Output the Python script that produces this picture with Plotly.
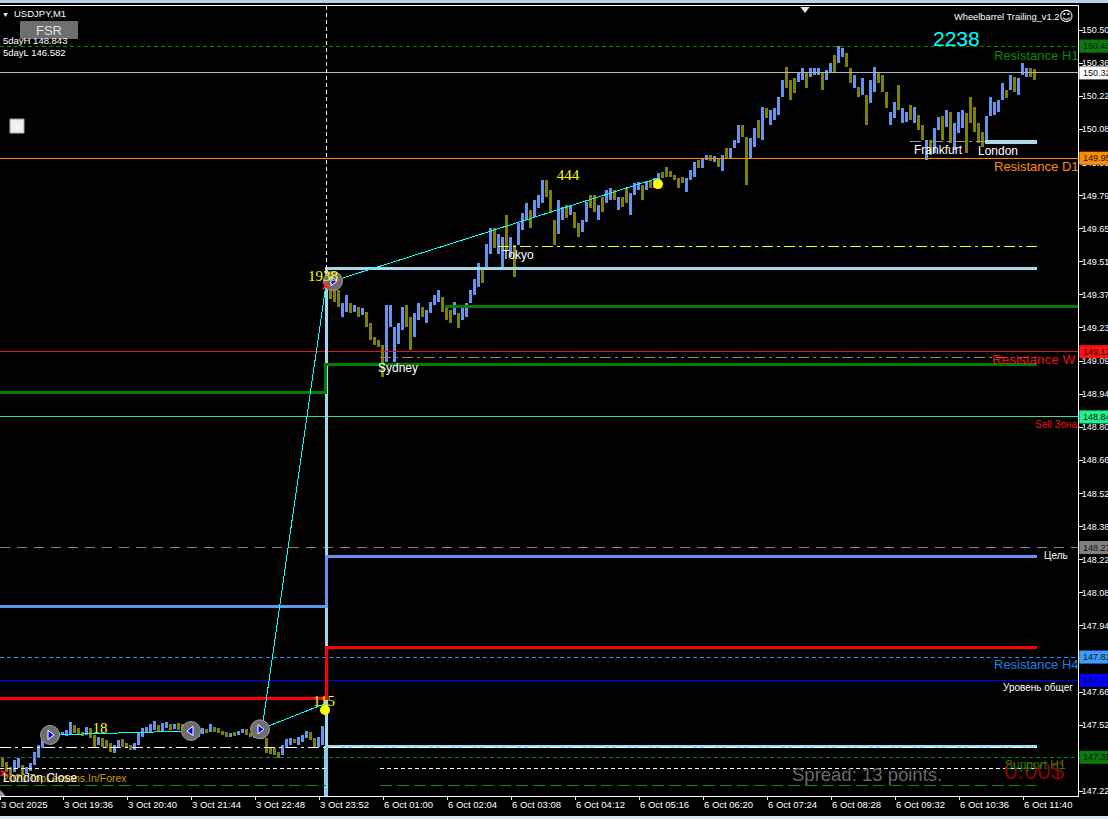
import plotly.graph_objects as go

# ---- price bars, one every 4 minutes -------------------------------------
high_a = [147.375,147.361,147.337,147.368,147.375,147.347,147.337,147.354,147.404,147.432,147.468,147.497,147.497,147.49,147.49,147.49,147.497,147.533,147.518,147.504,147.49,147.511,147.504,147.476,147.468,147.461,147.454,147.44,147.433,147.454,147.457,147.44,147.433,147.44,147.49,147.504,147.511,147.525,147.537,147.518,147.528,147.533,147.523,147.525,147.528,147.523,147.511,147.497,147.49,147.497,147.504,147.5,147.523,147.511,147.504,147.494,147.49,147.486,147.49,147.494,147.5,147.5,147.486,147.483,147.49,147.5,147.461,147.425,147.418,147.404,147.432,147.457,147.461,147.457,147.465,147.476,147.494,147.49,147.461,147.465,147.514]
low_a = [147.337,147.318,147.304,147.318,147.332,147.304,147.308,147.322,147.347,147.375,147.418,147.44,147.454,147.461,147.471,147.476,147.471,147.476,147.486,147.476,147.471,147.476,147.461,147.425,147.433,147.425,147.418,147.404,147.4,147.418,147.425,147.418,147.411,147.411,147.433,147.468,147.483,147.49,147.497,147.49,147.494,147.504,147.497,147.5,147.497,147.49,147.476,147.465,147.461,147.468,147.48,147.483,147.49,147.49,147.486,147.476,147.468,147.468,147.471,147.476,147.483,147.476,147.465,147.461,147.461,147.457,147.397,147.394,147.39,147.375,147.39,147.418,147.433,147.44,147.433,147.447,147.461,147.454,147.422,147.425,147.433]
dir_a = "DDDUUDUUUUUUUDUUUUDDDUDDUDDDUUDDDUUUUUUDUUDUDDDUDUUDUDDDDUDUUDDUUUDDDDUUUDUUUDDUU"[:81]

high_b = [149.47,149.42,149.398,149.384,149.327,149.363,149.327,149.32,149.313,149.306,149.291,149.241,149.184,149.17,149.148,149.32,149.32,149.227,149.241,149.313,149.32,149.27,149.284,149.327,149.313,149.298,149.334,149.363,149.384,149.356,149.32,149.298,149.334,149.284,149.306,149.327,149.384,149.434,149.499,149.47,149.584,149.649,149.649,149.627,149.613,149.706,149.613,149.577,149.67,149.713,149.756,149.727,149.77,149.792,149.856,149.856,149.813,149.684,149.77]
low_b = [149.413,149.348,149.334,149.313,149.27,149.291,149.284,149.291,149.27,149.277,149.227,149.17,149.148,149.141,149.012,149.077,149.227,149.077,149.155,149.213,149.227,149.127,149.184,149.255,149.27,149.241,149.284,149.32,149.334,149.291,149.255,149.241,149.277,149.22,149.255,149.27,149.327,149.363,149.398,149.413,149.47,149.541,149.563,149.541,149.484,149.556,149.527,149.441,149.577,149.642,149.684,149.649,149.699,149.735,149.756,149.785,149.713,149.577,149.627]
dir_b = "DDDDUUDUDUDDDDDUUUUUDDUUDUUUUDDDUDUUUUUDUUDUUDUDUUUDUUUDDDU"[:59]

high_c = [149.742,149.749,149.749,149.721,149.67,149.685,149.763,149.792,149.792,149.749,149.785,149.813,149.821,149.813,149.785,149.785,149.821,149.799,149.842,149.849,149.835,149.849,149.856,149.864,149.885,149.892,149.911,149.896,149.878,149.864,149.871,149.864,149.899,149.935,149.942,149.945,149.964,149.964,149.959,149.949,149.964,149.992,149.992,150.028,150.092]
low_c = [149.685,149.692,149.706,149.649,149.613,149.635,149.678,149.735,149.721,149.685,149.721,149.756,149.771,149.771,149.728,149.742,149.756,149.706,149.792,149.813,149.771,149.813,149.821,149.821,149.856,149.864,149.871,149.871,149.856,149.821,149.845,149.806,149.856,149.871,149.906,149.906,149.942,149.939,149.935,149.914,149.896,149.949,149.949,149.992,150.014]
dir_c = "UDUDDUUDDUDUUDUDDUUUDUDUUDDDDDDUUUDUUDUDUDUUU"[:45]

high_d = [150.092,150.04,150.035,150.078,150.114,150.171,150.164,150.157,150.164,150.214,150.285,150.343,150.285,150.293,150.314,150.335,150.321,150.335,150.335,150.335,150.321,150.328,150.357,150.393,150.431,150.421,150.4,150.335,150.307,150.257,150.293,150.221,150.285,150.343,150.321,150.307,150.235,150.15,150.192,150.264,150.164,150.15,150.178,150.171,150.135,150.092,150.028,150.028,150.078,150.128]
low_d = [150.042,149.835,149.95,150.0,150.035,150.028,150.121,150.092,150.114,150.135,150.214,150.25,150.2,150.228,150.278,150.285,150.25,150.3,150.307,150.307,150.243,150.285,150.321,150.321,150.357,150.385,150.343,150.271,150.25,150.214,150.221,150.092,150.185,150.235,150.271,150.235,150.164,150.092,150.121,150.157,150.1,150.107,150.114,150.1,150.071,150.028,149.942,149.964,149.971,150.071]
dir_d = "DDUUDUDUUUUDDDUUDUUUDUUDUUDDUDUDUUDDDUUDUUDUDDUDUU"[:50]

high_e = [150.129,150.157,150.15,150.1,150.15,150.157,150.143,150.214,150.171,150.1,150.064,150.129,150.214,150.193,150.2,150.271,150.243,150.307,150.3,150.293,150.357,150.336,150.336,150.331]
low_e = [150.028,150.086,150.014,149.986,150.057,150.078,149.971,150.1,150.064,150.014,150.0,150.028,150.129,150.136,150.15,150.2,150.207,150.243,150.236,150.221,150.307,150.3,150.3,150.286]
dir_e = "DUDUUUDDDDDUUUUUDUDUUUDD"

bar_high = high_a + high_b + high_c + high_d + high_e
bar_low = low_a + low_b + low_c + low_d + low_e
bar_dir = dir_a.ljust(81, "U") + dir_b.ljust(59, "U") + dir_c.ljust(45, "U") + dir_d.ljust(50, "U") + dir_e
bar_minute = [2 + 4 * i for i in range(len(bar_high))]
bar_open = [l if d == "U" else h for h, l, d in zip(bar_high, bar_low, bar_dir)]
bar_close = [h if d == "U" else l for h, l, d in zip(bar_high, bar_low, bar_dir)]

# ---- axes ---------------------------------------------------------------
x_tick_minutes = [0, 63, 127, 191, 255, 319, 383, 447, 511, 575, 639, 703, 767, 831, 895, 959, 1023]
x_tick_text = ["3 Oct 2025", "3 Oct 19:36", "3 Oct 20:40", "3 Oct 21:44", "3 Oct 22:48", "3 Oct 23:52",
               "6 Oct 01:00", "6 Oct 02:04", "6 Oct 03:08", "6 Oct 04:12", "6 Oct 05:16", "6 Oct 06:20",
               "6 Oct 07:24", "6 Oct 08:28", "6 Oct 09:32", "6 Oct 10:36", "6 Oct 11:40"]
y_tick_values = [150.50, 150.358, 150.216, 150.074, 149.932, 149.79, 149.648, 149.506, 149.364, 149.222, 149.08,
                 148.938, 148.796, 148.654, 148.512, 148.37, 148.228, 148.086, 147.944, 147.802, 147.66, 147.518,
                 147.376, 147.234]
y_tick_text = ["150.50", "150.36", "150.22", "150.08", "149.93", "149.79", "149.65", "149.51", "149.37", "149.23",
               "149.09", "148.94", "148.80", "148.66", "148.52", "148.38", "148.22", "148.08", "147.94", "147.80",
               "147.66", "147.52", "147.38", "147.22"]

X_MAX = 1078
Y_TOP, Y_BOTTOM = 150.603, 147.214
END = 1037

# ---- full-width price levels: price, colour, dash, tag text, tag colour ---
level_price = [150.431, 150.316, 149.95, 149.12, 148.84, 148.28, 147.81, 147.71, 147.38]
level_color = ["#0a8a0a", "#b4b4b4", "#ff8c00", "#ee1111", "#30e0a0", "#808080", "#1e90ff", "#0000ff", "#0a8a0a"]
level_dash = ["4px,3px", "solid", "solid", "solid", "solid", "10px,7px", "4px,3px", "solid", "4px,3px"]
level_tag = ["150.43", "150.32", "149.95", "149.12", "148.84", "148.27", "147.81", "147.71", "147.35"]
tag_color = ["#0a7a0a", "#ffffff", "#ff8c00", "#ff1111", "#20f090", "#808080", "#3d9bff", "#0000ff", "#0a7a0a"]

# ---- indicator step lines -----------------------------------------------
steel_x, steel_y = [0, 326, 326, END], [148.029, 148.029, 148.243, 148.243]
green_x, green_y = [0, 325, 325, END], [148.943, 148.943, 149.063, 149.063]
red_x, red_y = [0, 326, 326, END], [147.634, 147.634, 147.853, 147.853]
sky_x, sky_y = [END, 326, 326, END], [149.479, 149.479, 147.428, 147.428]
sky_drop_x, sky_drop_y = [326, 326], [147.428, 147.214]
green2_x, green2_y = [445, X_MAX], [149.316, 149.316]
sky2_x, sky2_y = [985, END], [150.02, 150.02]

# ---- thin dashed segments: x pair, price, colour, dash ---------------------
seg_x = [(498, END), (380, END), (0, END), (0, 326), (380, 1040), (0, 326), (380, END), (910, 985)]
seg_price = [149.573, 149.093, 147.424, 147.33, 147.33, 147.26, 147.26, 150.02]
seg_color = ["#ffff00", "#b87850", "#ffffff", "#ffffff", "#ffffff", "#0a8a0a", "#0a8a0a", "#999999"]
DD = "11px,4px,3px,4px"
seg_dash = [DD, DD, DD, "4px,3px", "4px,3px", "12px,5px", "12px,5px", DD]

# ---- trades -------------------------------------------------------------
trade_lines = [((50, 147.476), (191, 147.493)), ((260, 147.50), (325, 147.61)),
               ((262, 147.50), (326, 149.41)), ((333, 149.423), (658, 149.865))]
circle_x, circle_y = [50, 191, 260, 333], [147.476, 147.493, 147.50, 149.423]
arrow_symbol = ["triangle-right", "triangle-left", "triangle-right", "triangle-right"]
dot_x, dot_y = [658, 325], [149.839, 147.583]
cross_x, cross_y = [326, 4], [149.402, 147.312]

# ---- text: x, price, text, colour, size, family, anchor --------------------
SANS = "Liberation Sans"
SERIF = "Liberation Serif"
labels = [
    (994, 150.393, "Resistance H1", "#0a8a0a", 13, SANS, "middle right"),
    (994, 149.917, "Resistance D1", "#ff8c00", 13, SANS, "middle right"),
    (992, 149.089, "Resistance W", "#ee1111", 13.5, SANS, "middle right"),
    (994, 147.78, "Resistance H4", "#1e80e0", 13, SANS, "middle right"),
    (1035, 148.81, "Sell Зона", "#ee1111", 10, SANS, "middle right"),
    (1044, 148.248, "Цель", "#ffffff", 10, SANS, "middle right"),
    (1003, 147.681, "Уровень общег", "#ffffff", 10, SANS, "middle right"),
    (792, 147.304, "Spread: 13 points.", "#696969", 18.5, SANS, "middle right"),
    (1004, 147.317, "0.00$", "#8b0000", 24, SANS, "middle right"),
    (1005, 147.347, "Support H1", "#0a8a0a", 12, SANS, "middle right"),
    (933, 150.461, "2238", "#00ffff", 21, SANS, "middle right"),
    (954, 150.56, "Wheelbarrel Trailing_v1.2", "#ffffff", 9.3, SANS, "middle right"),
    (1059, 150.56, "☺", "#ffffff", 14, "DejaVu Sans", "middle right"),
    (14, 150.57, "USDJPY,M1", "#ffffff", 9.5, SANS, "middle right"),
    (2, 150.57, "▼", "#ffffff", 7, SANS, "middle right"),
    (49, 150.50, "FSR", "#e0e0e0", 13, SANS, "middle center"),
    (3, 150.457, "5dayH 148.843", "#ffffff", 9.5, SANS, "middle right"),
    (3, 150.406, "5dayL 146.582", "#ffffff", 9.5, SANS, "middle right"),
    (17, 150.088, "v", "#ffffff", 9, SANS, "middle center"),
    (3, 147.291, "2020 TopLessons.In/Forex", "#c8a000", 10.5, SANS, "middle right"),
    (3, 147.295, "London Close", "#ffffff", 12, SANS, "middle right"),
    (398, 149.05, "Sydney", "#ffffff", 12, SANS, "middle center"),
    (518, 149.535, "Tokyo", "#ffffff", 12, SANS, "middle center"),
    (938, 149.985, "Frankfurt", "#ffffff", 12, SANS, "middle center"),
    (998, 149.981, "London", "#ffffff", 12, SANS, "middle center"),
    (100, 147.505, "18", "#ffff00", 15, SERIF, "middle center"),
    (323, 149.445, "1938", "#ffff00", 15, SERIF, "middle center"),
    (568, 149.878, "444", "#ffff00", 15, SERIF, "middle center"),
    (324, 147.621, "115", "#ffff00", 15, SERIF, "middle center"),
]
LABEL_NUDGE = 0.006

fig = go.Figure()


def line(xs, ys, color, width=1, dash="solid"):
    fig.add_trace(go.Scatter(x=xs, y=ys, mode="lines", hoverinfo="skip",
                             line=dict(color=color, width=width, dash=dash, shape="linear")))


for price, color, dash in zip(level_price, level_color, level_dash):
    line([0, X_MAX], [price, price], color, 1, dash)

fig.add_trace(go.Ohlc(x=bar_minute, open=bar_open, high=bar_high, low=bar_low, close=bar_close, tickwidth=0,
                      increasing=dict(line=dict(color="#6495ed", width=3)),
                      decreasing=dict(line=dict(color="#808000", width=3)), hoverinfo="skip"))

line(sky_x, sky_y, "#a0d8ef", 3)
line(sky_drop_x, sky_drop_y, "#87ceeb", 4)
line(sky2_x, sky2_y, "#add8e6", 4)
line(steel_x, steel_y, "#6495ed", 3)
line(green_x, green_y, "#007f00", 3)
line(green2_x, green2_y, "#007f00", 3)
line(red_x, red_y, "#ff0000", 3)
for (x0, x1), price, color, dash in zip(seg_x, seg_price, seg_color, seg_dash):
    line([x0, x1], [price, price], color, 1, dash)
line([326, 326], [Y_TOP, 149.43], "#ffffff", 1, "4px,3px")

for (a, b) in trade_lines:
    line([a[0], b[0]], [a[1], b[1]], "#00ffff", 1)

fig.add_trace(go.Scatter(x=circle_x, y=circle_y, mode="markers", hoverinfo="skip",
                         marker=dict(size=19, color="#6e6e6e", line=dict(color="#9a9a9a", width=1))))
fig.add_trace(go.Scatter(x=circle_x, y=circle_y, mode="markers", hoverinfo="skip",
                         marker=dict(size=8, color="#0000ff", symbol=arrow_symbol, line=dict(color="#ffffff", width=1))))
fig.add_trace(go.Scatter(x=dot_x, y=dot_y, mode="markers", hoverinfo="skip", marker=dict(size=10, color="#ffff00")))
fig.add_trace(go.Scatter(x=cross_x, y=cross_y, mode="markers", hoverinfo="skip",
                         marker=dict(size=6, color="#ff2020", symbol="x-thin", line=dict(color="#ff2020", width=2))))
fig.add_trace(go.Scatter(x=[805], y=[150.59], mode="markers", hoverinfo="skip",
                         marker=dict(size=8, color="#e8e8e8", symbol="triangle-down")))
fig.add_trace(go.Scatter(x=[1], y=[147.222], mode="markers", hoverinfo="skip",
                         marker=dict(size=8, color="#999999", symbol="triangle-up")))

for x, y, text, color, size, family, pos in labels:
    fig.add_trace(go.Scatter(x=[x], y=[y - LABEL_NUDGE], mode="text", text=[text], textposition=pos, hoverinfo="skip",
                             textfont=dict(color=color, size=size, family=family)))

shapes = [
    dict(type="rect", xref="x", yref="y", x0=20, x1=78, y0=150.461, y1=150.539, fillcolor="#6e6e6e",
         line=dict(width=0), layer="below"),
    dict(type="rect", xref="x", yref="y", x0=10, x1=24, y0=150.058, y1=150.118, fillcolor="#eeeeee",
         line=dict(color="#aaaaaa", width=1), layer="below"),
    dict(type="rect", xref="paper", yref="paper", x0=0, x1=1.03, y0=1.0038, y1=1.0076, fillcolor="#b8d0e8",
         line=dict(width=0)),
    dict(type="rect", xref="paper", yref="paper", x0=0, x1=1.03, y0=-0.0291, y1=-0.0253, fillcolor="#d8e6f2",
         line=dict(width=0)),
]
annotations = []
for price, tag, color in zip(level_price, level_tag, tag_color):
    shapes.append(dict(type="rect", xref="paper", yref="y", x0=1.0012, x1=1.03, y0=price - 0.028, y1=price + 0.028,
                       fillcolor=color, line=dict(width=0)))
    annotations.append(dict(xref="paper", yref="y", x=1, y=price, xanchor="left", xshift=3, yshift=0, text=tag,
                            showarrow=False, font=dict(size=9, color="#101010" if color != "#0000ff" else "#000030",
                                                       family=SANS)))

fig.update_layout(
    width=1108, height=819, showlegend=False,
    paper_bgcolor="#000000", plot_bgcolor="#000000",
    margin=dict(l=0, r=30, t=6, b=23, pad=0, autoexpand=False),
    font=dict(family=SANS, color="#ffffff", size=10),
    shapes=shapes, annotations=annotations,
    xaxis=dict(range=[0, X_MAX], tickmode="array", tickvals=x_tick_minutes, ticktext=x_tick_text, automargin=False,
               rangeslider=dict(visible=False), showgrid=False, zeroline=False, showline=True, mirror=True,
               linecolor="#ffffff", linewidth=1, ticks="outside", ticklen=3, tickcolor="#ffffff",
               ticklabelposition="outside right", tickfont=dict(size=9.5, color="#ffffff", family=SANS)),
    yaxis=dict(range=[Y_BOTTOM, Y_TOP], side="right", tickmode="array", tickvals=y_tick_values, automargin=False,
               ticktext=y_tick_text, showgrid=False, zeroline=False, showline=True, linecolor="#ffffff",
               linewidth=1, ticks="outside", ticklen=4, tickcolor="#ffffff", ticklabelstandoff=-3,
               tickfont=dict(size=9, color="#ffffff", family=SANS)),
)

fig.write_html("out.html", config=dict(displayModeBar=False),
               post_script="document.body.style.margin='0';document.body.style.background='#000';"
                           "document.querySelectorAll('.scatterlayer .js-line, .ohlclayer path')"
                           ".forEach(function(e){e.style.shapeRendering='crispEdges';});")
